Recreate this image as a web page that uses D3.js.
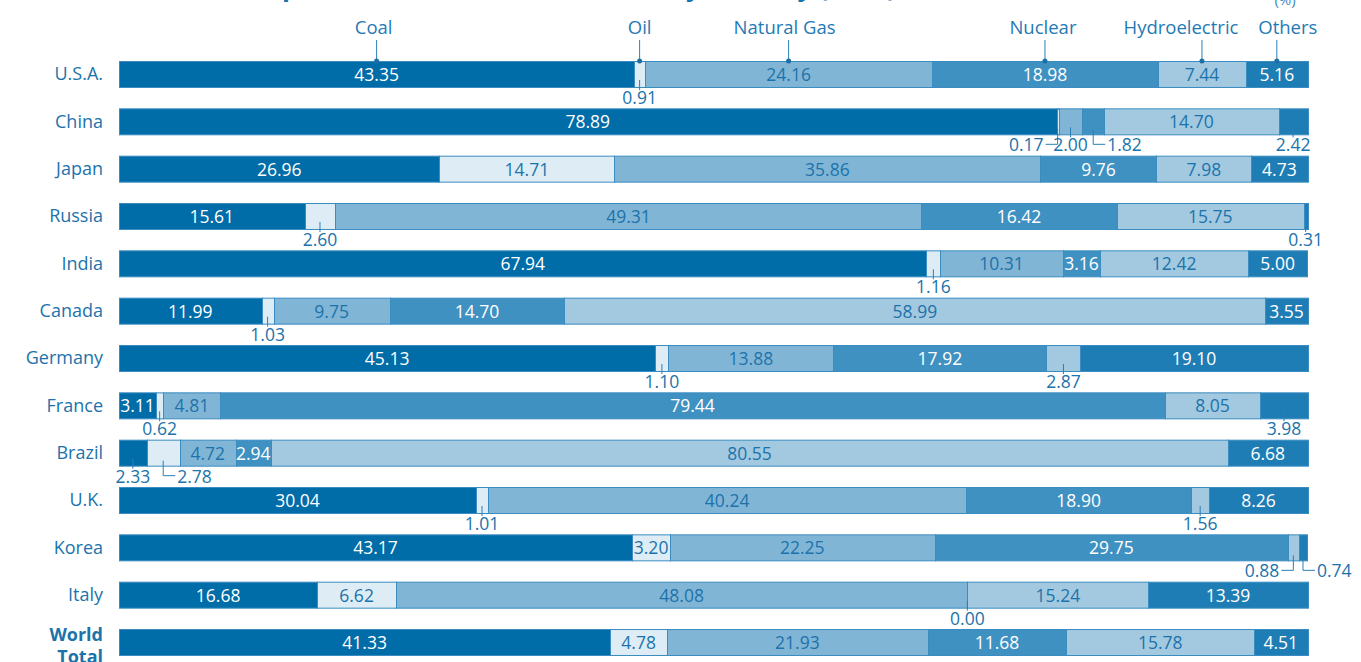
<!DOCTYPE html>
<html>
<head>
<meta charset="utf-8">
<script src="https://cdn.jsdelivr.net/npm/d3@7"></script>
<style>
  body { margin: 0; background: #fff; }
  text { font-family: "Open Sans", sans-serif; }
</style>
</head>
<body>
<svg id="chart" width="1361" height="662"></svg>
<script>
// energy sources, in stacking order
const sources = ["Coal", "Oil", "Natural Gas", "Nuclear", "Hydroelectric", "Others"];
const countries = ["U.S.A.", "China", "Japan", "Russia", "India", "Canada", "Germany",
  "France", "Brazil", "U.K.", "Korea", "Italy", "World Total"];

// share of generation (%) per source
const usa     = [43.35, 0.91, 24.16, 18.98, 7.44, 5.16];
const china   = [78.89, 0.17, 2.00, 1.82, 14.70, 2.42];
const japan   = [26.96, 14.71, 35.86, 9.76, 7.98, 4.73];
const russia  = [15.61, 2.60, 49.31, 16.42, 15.75, 0.31];
const india   = [67.94, 1.16, 10.31, 3.16, 12.42, 5.00];
const canada  = [11.99, 1.03, 9.75, 14.70, 58.99, 3.55];
const germany = [45.13, 1.10, 13.88, 17.92, 2.87, 19.10];
const france  = [3.11, 0.62, 4.81, 79.44, 8.05, 3.98];
const brazil  = [2.33, 2.78, 4.72, 2.94, 80.55, 6.68];
const uk      = [30.04, 1.01, 40.24, 18.90, 1.56, 8.26];
const korea   = [43.17, 3.20, 22.25, 29.75, 0.88, 0.74];
const italy   = [16.68, 6.62, 48.08, 0.00, 15.24, 13.39];
const world   = [41.33, 4.78, 21.93, 11.68, 15.78, 4.51];

const shares = [usa, china, japan, russia, india, canada, germany, france, brazil, uk, korea, italy, world];

const fills = ["#006ca8", "#deedf5", "#81b5d6", "#3f91c1", "#a2c9e0", "#1f7db5"];
const inkOn = ["#fff", "#1c73ab", "#1c73ab", "#fff", "#1c73ab", "#fff"];
const blue = "#1c73ab";

// small segments whose label goes out with an elbow instead of straight below
const calloutSide = {
  "China|1": "left", "China|3": "right",
  "Brazil|1": "right",
  "Korea|4": "left", "Korea|5": "right",
  "France|5": "below"
};
// nudge for the header names so they don't collide
const headerDx = [-3, 0, -4, -2, -21, 11];

const svg = d3.select("#chart");

const x = d3.scaleLinear().domain([0, 100]).range([119, 1307.5]);
const y = d3.scaleBand().domain(countries).range([61, 656]).paddingInner(0.43).paddingOuter(0);
const fmt = d3.format(".2f");

// title (sits mostly above the visible area)
svg.append("text")
  .attr("x", 560).attr("y", -4)
  .attr("text-anchor", "middle")
  .attr("font-size", 26).attr("font-weight", 700)
  .attr("fill", blue)
  .text("Composition of Power Generation by Country (2016)");

svg.append("text")
  .attr("x", 1285).attr("y", 5)
  .attr("text-anchor", "middle")
  .attr("font-size", 15)
  .attr("fill", "#3b8cc1")
  .text("(%)");

// stack every row
const rows = countries.map((c, i) => {
  let acc = 0;
  return {
    country: c,
    segs: shares[i].map((v, j) => {
      const s = {country: c, idx: j, value: v, x0: acc, x1: acc + v};
      acc += v;
      return s;
    })
  };
});

const row = svg.selectAll("g.row")
  .data(rows)
  .join("g")
    .attr("class", "row")
    .attr("transform", d => "translate(0," + y(d.country) + ")");

const bh = y.bandwidth();

row.selectAll("rect")
  .data(d => d.segs)
  .join("rect")
    .attr("x", d => Math.round(x(d.x0)) + 0.5)
    .attr("y", 0.5)
    .attr("width", d => Math.max(0, Math.round(x(d.x1)) - Math.round(x(d.x0))))
    .attr("height", bh - 1)
    .attr("fill", d => fills[d.idx])
    .attr("stroke", "#3a8cc1")
    .attr("stroke-width", 1);

// country names
row.append("text")
  .attr("x", 103)
  .attr("y", bh / 2 + 6)
  .attr("text-anchor", "end")
  .attr("font-size", 18)
  .attr("fill", blue)
  .each(function(d) {
    const t = d3.select(this);
    if (d.country === "World Total") {
      t.attr("font-weight", 700).attr("y", bh / 2 - 2);
      t.append("tspan").attr("x", 103).text("World");
      t.append("tspan").attr("x", 103).attr("dy", 22).text("Total");
    } else {
      t.text(d.country);
    }
  });

// value labels
row.each(function(r) {
  const g = d3.select(this);
  r.segs.forEach(s => {
    const w = x(s.x1) - x(s.x0);
    const cx = (x(s.x0) + x(s.x1)) / 2;
    const side = calloutSide[s.country + "|" + s.idx] || (w >= 34.5 ? "inside" : "below");
    if (side === "inside") {
      g.append("text")
        .attr("x", cx).attr("y", bh / 2 + 6.5)
        .attr("text-anchor", "middle")
        .attr("font-size", 17.5)
        .attr("fill", inkOn[s.idx])
        .text(fmt(s.value));
      return;
    }
    const ly = bh + 16;
    const lineCol = "#2a7fb6";
    if (side === "below") {
      g.append("line")
        .attr("x1", cx).attr("x2", cx)
        .attr("y1", bh - 8).attr("y2", bh + 2)
        .attr("stroke", lineCol).attr("stroke-width", 1);
      g.append("text")
        .attr("x", cx).attr("y", ly)
        .attr("text-anchor", "middle")
        .attr("font-size", 17.5)
        .attr("fill", blue)
        .text(fmt(s.value));
    } else {
      const dir = side === "left" ? -1 : 1;
      const ey = bh + 9;
      g.append("path")
        .attr("d", `M${cx},${bh - 6} V${ey} H${cx + dir * 12}`)
        .attr("fill", "none")
        .attr("stroke", lineCol).attr("stroke-width", 1);
      g.append("text")
        .attr("x", cx + dir * 14).attr("y", ly)
        .attr("text-anchor", side === "left" ? "end" : "start")
        .attr("font-size", 17.5)
        .attr("fill", blue)
        .text(fmt(s.value));
    }
  });
});

// header names with leader lines onto the first bar
const first = rows[0];
const head = svg.append("g");
first.segs.forEach((s, j) => {
  const cx = (x(s.x0) + x(s.x1)) / 2;
  const top = y(first.country);
  head.append("line")
    .attr("x1", cx).attr("x2", cx)
    .attr("y1", 40).attr("y2", top)
    .attr("stroke", "#2a7fb6").attr("stroke-width", 1);
  head.append("circle")
    .attr("cx", cx).attr("cy", top).attr("r", 2.5)
    .attr("fill", "#1c6fa5");
  head.append("text")
    .attr("x", cx + headerDx[j]).attr("y", 34)
    .attr("text-anchor", "middle")
    .attr("font-size", 18.5)
    .attr("fill", "#1f7ab5")
    .text(sources[j]);
});
</script>
</body>
</html>
